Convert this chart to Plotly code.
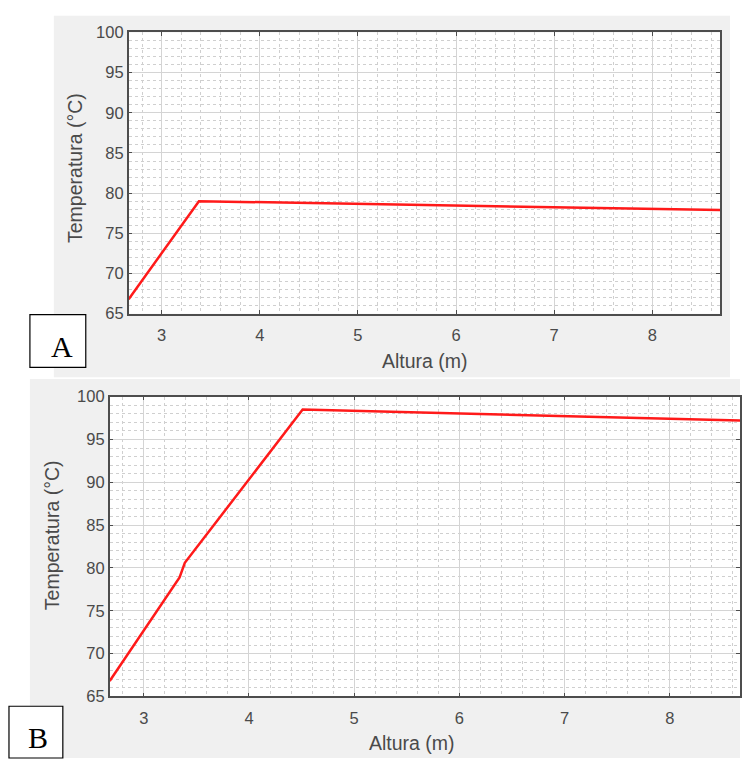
import plotly.graph_objects as go

W, H = 742, 767

# Panel A data
a_x = [2.664, 3.38, 8.69]
a_y = [66.8, 79.0, 77.9]
# Panel B data
b_x = [2.676, 3.34, 3.39, 4.51, 8.69]
b_y = [66.8, 78.9, 80.6, 98.5, 97.2]

x_ticks = [3, 4, 5, 6, 7, 8]
y_ticks = [65, 70, 75, 80, 85, 90, 95, 100]
x_title = "Altura (m)"
y_title = "Temperatura (°C)"
panel_labels = ["A", "B"]

def px(v):
    return v / W

def py(v):
    return 1 - v / H

fig = go.Figure()
fig.add_trace(go.Scatter(x=a_x, y=a_y, mode="lines", line=dict(color="#ff1a1a", width=2.5),
                         xaxis="x", yaxis="y", showlegend=False))
fig.add_trace(go.Scatter(x=b_x, y=b_y, mode="lines", line=dict(color="#ff1a1a", width=2.5),
                         xaxis="x2", yaxis="y2", showlegend=False))

tickfont = dict(family="Liberation Sans, Arial, sans-serif", size=16.5, color="#4a4a4a")

def xax(domain, rng, anchor):
    return dict(domain=domain, range=rng, anchor=anchor, tickvals=x_ticks,
                showline=True, linecolor="#4d4d4d", linewidth=1.5, mirror="ticks",
                ticks="inside", ticklen=4, tickcolor="#4d4d4d", tickfont=tickfont,
                ticklabelstandoff=6,
                showgrid=True, gridcolor="#d4d4d4", gridwidth=1, zeroline=False,
                minor=dict(dtick=0.2, showgrid=True, gridcolor="#cfcfcf", griddash="dot", gridwidth=1),
                fixedrange=True)

def yax(domain, anchor):
    return dict(domain=domain, range=[65, 100], anchor=anchor, tickvals=y_ticks,
                showline=True, linecolor="#4d4d4d", linewidth=1.5, mirror="ticks",
                ticks="inside", ticklen=4, tickcolor="#4d4d4d", tickfont=tickfont,
                showgrid=True, gridcolor="#d4d4d4", gridwidth=1, zeroline=False,
                minor=dict(dtick=1, showgrid=True, gridcolor="#cfcfcf", griddash="dot", gridwidth=1),
                fixedrange=True)

shapes = [
    dict(type="rect", xref="paper", yref="paper", x0=px(54), x1=px(732), y0=py(377), y1=py(7),
         fillcolor="#f0f0f0", line=dict(width=0), layer="below"),
    dict(type="rect", xref="paper", yref="paper", x0=px(30), x1=px(742), y0=py(767), y1=py(379),
         fillcolor="#f0f0f0", line=dict(width=0), layer="below"),
    dict(type="rect", xref="paper", yref="paper", x0=px(129), x1=px(722), y0=py(312), y1=py(24),
         fillcolor="white", line=dict(width=0), layer="below"),
    dict(type="rect", xref="paper", yref="paper", x0=px(110), x1=1.0, y0=py(704), y1=py(397),
         fillcolor="white", line=dict(width=0), layer="below"),
    dict(type="rect", xref="paper", yref="paper", x0=px(30), x1=px(86), y0=py(367), y1=py(313),
         fillcolor="white", line=dict(color="black", width=1.2), layer="above"),
    dict(type="rect", xref="paper", yref="paper", x0=px(9), x1=px(63), y0=py(767), y1=py(714),
         fillcolor="white", line=dict(color="black", width=1.2), layer="above"),
]

titlefont = dict(family="Liberation Sans, Arial, sans-serif", size=19.5, color="#4a4a4a")
labfont = dict(family="Liberation Serif, Times New Roman, serif", size=30, color="black")
annotations = [
    dict(text=x_title, x=px(426), y=py(360), xref="paper", yref="paper", showarrow=False,
         font=titlefont, xanchor="center", yanchor="middle"),
    dict(text=y_title, x=px(75), y=py(163), xref="paper", yref="paper", showarrow=False,
         font=titlefont, textangle=-90, xanchor="center", yanchor="middle"),
    dict(text=x_title, x=px(413), y=py(752), xref="paper", yref="paper", showarrow=False,
         font=titlefont, xanchor="center", yanchor="middle"),
    dict(text=y_title, x=px(52), y=py(539), xref="paper", yref="paper", showarrow=False,
         font=titlefont, textangle=-90, xanchor="center", yanchor="middle"),
    dict(text=panel_labels[0], x=px(62), y=py(346), xref="paper", yref="paper", showarrow=False,
         font=labfont, xanchor="center", yanchor="middle"),
    dict(text=panel_labels[1], x=px(38), y=py(746), xref="paper", yref="paper", showarrow=False,
         font=labfont, xanchor="center", yanchor="middle"),
]

fig.update_layout(
    width=W, height=H, margin=dict(l=0, r=0, t=0, b=0),
    paper_bgcolor="white", plot_bgcolor="white",
    xaxis=xax([px(129), px(722)], [2.664, 8.69], "y"),
    yaxis=yax([py(312), py(24)], "x"),
    xaxis2=xax([px(110), 1.0], [2.676, 8.667], "y2"),
    yaxis2=yax([py(704), py(397)], "x2"),
    shapes=shapes, annotations=annotations,
)

fig.write_html("out.html")
